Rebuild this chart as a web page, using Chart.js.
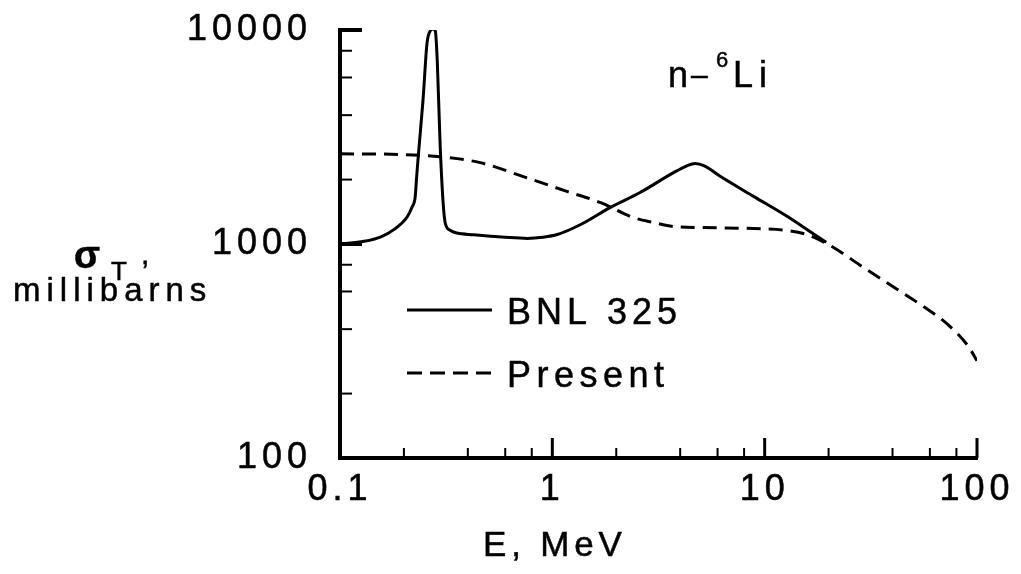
<!DOCTYPE html>
<html>
<head>
<meta charset="utf-8">
<script src="https://cdn.jsdelivr.net/npm/chart.js@4.4.1/dist/chart.umd.min.js"></script>
<style>
  html, body { margin: 0; padding: 0; background: #fff; }
  #wrap { width: 1021px; height: 574px; position: relative; }
</style>
</head>
<body>
<div id="wrap"><canvas id="chart"></canvas></div>
<script>
// BNL 325 evaluation (solid)
const bnlEnergy = [0.1, 0.13, 0.155, 0.18, 0.207, 0.2185, 0.226, 0.2295, 0.2335, 0.246, 0.257, 0.266, 0.274, 0.281, 0.287, 0.296, 0.306, 0.313, 0.33, 0.356, 0.425, 0.6, 0.763, 0.9, 1.055, 1.36, 1.87, 2.59, 3.72, 4.3, 4.7, 5.2, 6.2, 8.9, 12.8, 17.8, 19.5];
const bnlSigma = [1000, 1030, 1078, 1170, 1337, 1490, 1660, 2050, 2550, 4700, 8700, 9900, 10100, 9900, 7240, 2965, 1555, 1254, 1160, 1125, 1105, 1075, 1062, 1075, 1107, 1233, 1480, 1740, 2155, 2320, 2380, 2320, 2065, 1665, 1343, 1080, 1020];
// present result (dashed)
const presentEnergy = [0.1, 0.19, 0.296, 0.457, 0.73, 1.18, 1.69, 2.4, 3.0, 3.72, 5.1, 8.9, 12.8, 15.8, 20.3, 29.3, 42, 56, 73, 90.5, 100];
const presentSigma = [2640, 2620, 2557, 2400, 2065, 1757, 1560, 1330, 1260, 1207, 1194, 1180, 1156, 1107, 985, 775, 615, 510, 420, 335, 285];

const xTicks = [0.1, 0.2, 0.4, 0.6, 0.8, 1, 2, 4, 6, 8, 10, 20, 40, 60, 80, 100];
const yTicks = [100, 200, 400, 600, 800, 1000, 2000, 4000, 6000, 8000, 10000];
const xLabels = [0.1, 1, 10, 100];
const yLabels = [100, 1000, 10000];

const FONT = '"Liberation Sans", Arial, Helvetica, sans-serif';

const toPoints = (xs, ys) => xs.map((x, i) => ({ x: x, y: ys[i] }));

function txt(ctx, s, x, y, size, spacing, weight) {
    ctx.font = (weight || 'normal') + ' ' + size + 'px ' + FONT;
    ctx.letterSpacing = spacing + 'px';
    ctx.lineWidth = 0.5;
    ctx.strokeText(s, x, y);
    ctx.fillText(s, x, y);
}

const decorPlugin = {
    id: 'decor',
    beforeLayout(chart) { chart.ctx.letterSpacing = '5px'; },
    beforeDraw(chart) { chart.ctx.letterSpacing = '5px'; },
    afterDraw(chart) {
        const ctx = chart.ctx;
        const xs = chart.scales.x, ys = chart.scales.y;
        const area = chart.chartArea;
        ctx.save();
        ctx.strokeStyle = '#000';
        ctx.fillStyle = '#000';
        ctx.lineCap = 'butt';
        // inward tick marks
        xTicks.forEach(v => {
            if (v === 0.1) return;
            const px = xs.getPixelForValue(v);
            const major = xLabels.includes(v);
            ctx.lineWidth = major ? 3 : 2;
            ctx.beginPath();
            ctx.moveTo(px, area.bottom);
            ctx.lineTo(px, area.bottom - (major ? 20 : 10));
            ctx.stroke();
        });
        yTicks.forEach(v => {
            if (v === 100) return;
            const py = ys.getPixelForValue(v);
            const major = yLabels.includes(v);
            ctx.lineWidth = major ? 4 : 2;
            ctx.beginPath();
            ctx.moveTo(area.left, py);
            ctx.lineTo(area.left + (major ? 22 : 12), py);
            ctx.stroke();
        });

        ctx.textAlign = 'left';
        ctx.textBaseline = 'alphabetic';
        // axis titles
        txt(ctx, 'σ', 74, 268, 38, 0, 'bold');
        txt(ctx, 'T', 111, 280, 26, 0);
        txt(ctx, ',', 141, 264, 30, 0);
        txt(ctx, 'millibarns', 13, 301, 33, 6);
        txt(ctx, 'E, MeV', 483, 556, 35, 4.8);
        // reaction label
        txt(ctx, 'n', 668, 87, 36, 0);
        txt(ctx, '–', 691, 85, 30, 0);
        txt(ctx, '6', 716, 67, 22, 0);
        txt(ctx, 'Li', 733, 87, 36, 6);

        // legend
        ctx.lineWidth = 3;
        ctx.setLineDash([]);
        ctx.beginPath();
        ctx.moveTo(407, 310);
        ctx.lineTo(492, 310);
        ctx.stroke();
        ctx.setLineDash([15, 8]);
        ctx.beginPath();
        ctx.moveTo(407, 373);
        ctx.lineTo(492, 373);
        ctx.stroke();
        ctx.setLineDash([]);
        txt(ctx, 'BNL 325', 507, 324, 36, 5);
        txt(ctx, 'Present', 507, 387, 36, 5.5);
        ctx.restore();
    }
};

new Chart(document.getElementById('chart'), {
    type: 'line',
    data: {
        datasets: [{
            label: 'BNL 325',
            data: toPoints(bnlEnergy, bnlSigma),
            borderColor: '#000',
            borderWidth: 3,
            pointRadius: 0,
            cubicInterpolationMode: 'monotone',
            fill: false
        }, {
            label: 'Present',
            data: toPoints(presentEnergy, presentSigma),
            borderColor: '#000',
            borderWidth: 3,
            borderDash: [14, 8],
            pointRadius: 0,
            cubicInterpolationMode: 'monotone',
            fill: false
        }]
    },
    options: {
        responsive: true,
        maintainAspectRatio: false,
        animation: false,
        layout: { padding: { left: 0, top: 30, right: 44, bottom: 0 } },
        plugins: { legend: { display: false }, tooltip: { enabled: false } },
        scales: {
            x: {
                type: 'logarithmic',
                min: 0.1,
                max: 100,
                afterBuildTicks: s => { s.ticks = xTicks.map(v => ({ value: v })); },
                afterFit: s => { s.height = 116; s.paddingLeft = 0; s.paddingRight = 0; },
                grid: { display: false, drawTicks: false },
                border: { display: true, color: '#000', width: 4 },
                ticks: {
                    autoSkip: false,
                    maxRotation: 0,
                    padding: 10,
                    color: '#000',
                    textStrokeColor: '#000',
                    textStrokeWidth: 0.5,
                    font: { family: FONT, size: 36 },
                    callback: v => xLabels.includes(v) ? String(v) : ''
                }
            },
            y: {
                type: 'logarithmic',
                min: 100,
                max: 10000,
                afterBuildTicks: s => { s.ticks = yTicks.map(v => ({ value: v })); },
                afterFit: s => { s.width = 340; s.paddingTop = 0; s.paddingBottom = 0; },
                grid: { display: false, drawTicks: false },
                border: { display: true, color: '#000', width: 4 },
                ticks: {
                    autoSkip: false,
                    padding: 28,
                    color: '#000',
                    textStrokeColor: '#000',
                    textStrokeWidth: 0.5,
                    font: { family: FONT, size: 36 },
                    callback: v => yLabels.includes(v) ? String(v) : ''
                }
            }
        }
    },
    plugins: [decorPlugin]
});
</script>
</body>
</html>
